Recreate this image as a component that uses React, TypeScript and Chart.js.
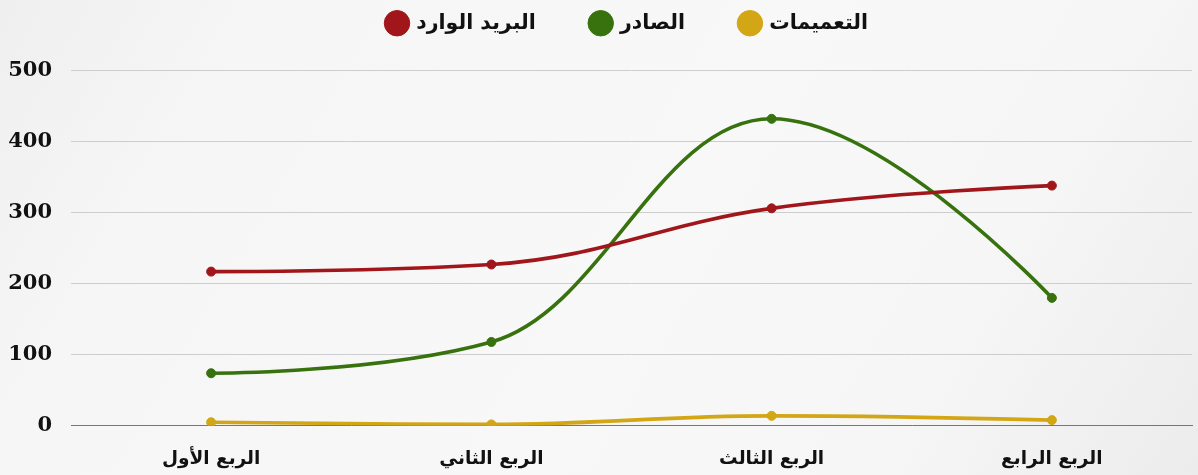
import React, { useEffect, useRef } from 'react';
import { Chart, registerables } from 'chart.js';

Chart.register(...registerables);

const quarters = ['الربع الأول', 'الربع الثاني', 'الربع الثالث', 'الربع الرابع'];
const seriesNames = ['البريد الوارد', 'الصادر', 'التعميمات'];
const incoming = [217, 227, 306, 338];
const outgoing = [74, 118, 432, 180];
const circulars = [5, 2, 14, 8];
const yMin = 0;
const yMax = 500;
const yStep = 100;

const colors = ['#a0161b', '#38720f', '#d2a614'];

const legendGap = {
  id: 'legendGap',
  beforeInit(chart: any) {
    const lg = chart.legend;
    if (!lg) return;
    const orig = lg.fit;
    lg.fit = function () {
      orig.call(this);
      this.height += 27;
    };
  },
};

// Smooth spline (smoothing 1.5, no false extremes) applied to the
// control points of the points Chart.js placed on its scales.
const smoothSpline = {
  id: 'smoothSpline',
  beforeDatasetsDraw(chart: any) {
    const s = 1.5;
    const den = s + 1;
    chart.data.datasets.forEach((_: any, di: number) => {
      const meta = chart.getDatasetMeta(di);
      const line = meta.dataset;
      const pts = meta.data as any[];
      if (!line || !pts || !pts.length) return;
      if (line.updateControlPoints) line.updateControlPoints(chart.chartArea, meta.indexAxis);
      const n = pts.length;
      for (let i = 0; i < n; i++) {
        const p = pts[i];
        if (i === 0 || i === n - 1) {
          p.cp1x = p.x; p.cp1y = p.y; p.cp2x = p.x; p.cp2y = p.y;
          continue;
        }
        const a = pts[i - 1];
        const b = pts[i + 1];
        let lx = (s * p.x + a.x) / den;
        let ly = (s * p.y + a.y) / den;
        let rx = (s * p.x + b.x) / den;
        let ry = (s * p.y + b.y) / den;
        if (rx !== lx) {
          const corr = ((ry - ly) * (rx - p.x)) / (rx - lx) + p.y - ry;
          ly += corr;
          ry += corr;
        }
        if (ly > a.y && ly > p.y) {
          ly = Math.max(a.y, p.y); ry = 2 * p.y - ly;
        } else if (ly < a.y && ly < p.y) {
          ly = Math.min(a.y, p.y); ry = 2 * p.y - ly;
        }
        if (ry > b.y && ry > p.y) {
          ry = Math.max(b.y, p.y); ly = 2 * p.y - ry;
        } else if (ry < b.y && ry < p.y) {
          ry = Math.min(b.y, p.y); ly = 2 * p.y - ry;
        }
        p.cp1x = lx; p.cp1y = ly; p.cp2x = rx; p.cp2y = ry;
      }
      line._path = undefined;
    });
  },
};

export default function App() {
  const ref = useRef<HTMLCanvasElement | null>(null);

  useEffect(() => {
    if (!ref.current) return;
    const values = [incoming, outgoing, circulars];
    const chart = new Chart(ref.current, {
      type: 'line',
      data: {
        labels: quarters,
        datasets: seriesNames.map((name, i) => ({
          label: name,
          data: values[i],
          borderColor: colors[i],
          backgroundColor: colors[i],
          pointBackgroundColor: colors[i],
          pointBorderColor: colors[i],
          borderWidth: 3.6,
          pointRadius: 4.5,
          pointBorderWidth: 1,
          pointHoverRadius: 4.5,
          tension: 0.4,
          fill: false,
          yAxisID: 'y',
        })),
      },
      options: {
        animation: false,
        responsive: false,
        maintainAspectRatio: false,
        layout: { padding: { top: -43, left: 0, right: -58, bottom: -9 } },
        plugins: {
          tooltip: { enabled: false },
          legend: {
            position: 'top',
            labels: {
              usePointStyle: true,
              pointStyle: 'circle',
              boxWidth: 18,
              boxHeight: 18,
              padding: 56,
              color: '#111',
              font: { family: "'DejaVu Sans'", size: 20.5, weight: 'bold' },
            },
          },
        },
        scales: {
          x: {
            offset: true,
            grid: { display: false },
            border: { display: true, color: '#777', width: 1 },
            ticks: {
              color: '#111',
              padding: 14,
              maxRotation: 0,
              font: { family: "'DejaVu Serif', 'DejaVu Sans'", size: 18.5, weight: 'bold' },
            },
          },
          y: {
            position: 'left',
            min: yMin,
            max: yMax,
            afterFit(scale: any) {
              scale.width = 71;
            },
            border: { display: false },
            grid: { color: '#cdcdcd', lineWidth: 1, drawTicks: false },
            ticks: {
              stepSize: yStep,
              color: '#111',
              padding: 19,
              font: { family: "'DejaVu Serif'", size: 21, weight: 'bold' },
            },
          },
          y2: {
            type: 'linear',
            position: 'right',
            display: true,
            afterFit(scale: any) {
              scale.width = 64;
            },
            border: { display: false },
            grid: { display: false },
            ticks: { display: false },
          },
        },
      },
      plugins: [legendGap, smoothSpline],
    });
    return () => chart.destroy();
  }, []);

  return (
    <div
      style={{
        position: 'fixed',
        left: 0,
        top: 0,
        width: 1198,
        height: 475,
        overflow: 'hidden',
        background:
          'linear-gradient(120deg, #efefef 0%, #f6f6f6 18%, #f8f8f8 55%, #f6f6f6 78%, #ececec 100%)',
      }}
    >
      <canvas ref={ref} width={1198} height={475} style={{ display: 'block' }} />
    </div>
  );
}
